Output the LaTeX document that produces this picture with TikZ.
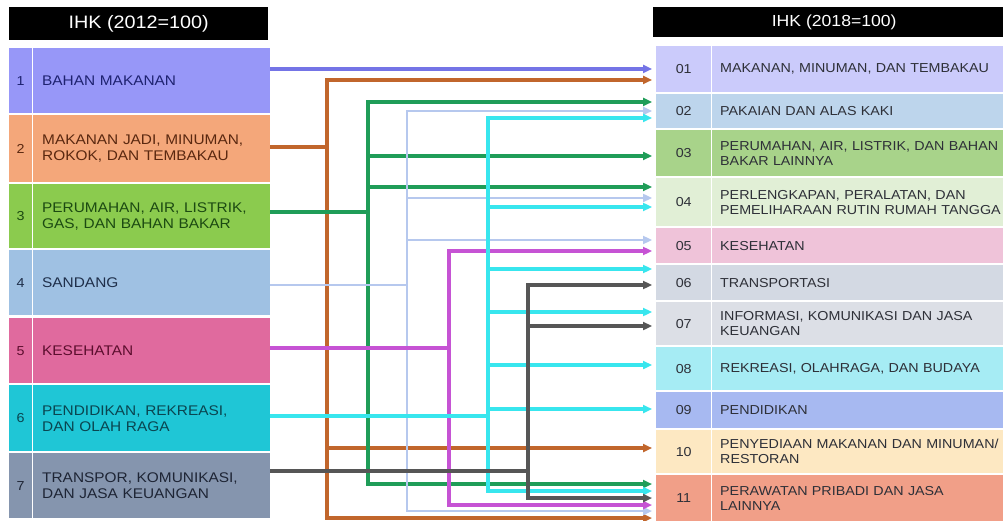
\documentclass[tikz,border=0pt]{standalone}
\usepackage{fontspec}
\setmainfont{Liberation Sans}[FakeStretch=1.1]
\usepackage{tikz}
\usetikzlibrary{positioning,arrows.meta}

\definecolor{lf1}{HTML}{9797F8}
\definecolor{lf2}{HTML}{F4A77A}
\definecolor{lf3}{HTML}{8BCB4E}
\definecolor{lf4}{HTML}{9FC1E3}
\definecolor{lf5}{HTML}{E06A9E}
\definecolor{lf6}{HTML}{1FC6D6}
\definecolor{lf7}{HTML}{8595AE}
\definecolor{lt1}{HTML}{1E2270}
\definecolor{lt2}{HTML}{5A2810}
\definecolor{lt3}{HTML}{1C4A12}
\definecolor{lt4}{HTML}{1F2F4A}
\definecolor{lt5}{HTML}{5C0E2E}
\definecolor{lt6}{HTML}{0A4550}
\definecolor{lt7}{HTML}{1E2535}
\definecolor{rf1}{HTML}{CBCBFB}
\definecolor{rf2}{HTML}{BDD5EC}
\definecolor{rf3}{HTML}{A8D38A}
\definecolor{rf4}{HTML}{E1EFD6}
\definecolor{rf5}{HTML}{EFC3D9}
\definecolor{rf6}{HTML}{D3D9E3}
\definecolor{rf7}{HTML}{DCDFE6}
\definecolor{rf8}{HTML}{A6ECF4}
\definecolor{rf9}{HTML}{A7B9F1}
\definecolor{rf10}{HTML}{FDE8C2}
\definecolor{rf11}{HTML}{F19F88}
\definecolor{rtx}{HTML}{2E3038}
\definecolor{ln1}{HTML}{7474E6}
\definecolor{ln2}{HTML}{C1662C}
\definecolor{ln3}{HTML}{1F9D58}
\definecolor{ln4}{HTML}{B6C8EE}
\definecolor{ln5}{HTML}{C653D4}
\definecolor{ln6}{HTML}{38E6EE}
\definecolor{ln7}{HTML}{565656}

\tikzset{
  hdr/.style={fill=black, text=white, anchor=north west, inner sep=0pt},
  lnum/.style={anchor=north west, minimum width=23pt, inner sep=0pt, font=\fontsize{13}{15}\selectfont},
  lcell/.style={anchor=north west, text width=219pt, inner xsep=9pt, inner ysep=0pt, align=left, font=\fontsize{14}{16}\selectfont},
  rnum/.style={anchor=north west, minimum width=55pt, inner sep=0pt, text=rtx, font=\fontsize{13}{15}\selectfont},
  rcell/.style={anchor=north west, text width=300pt, inner xsep=8pt, inner ysep=0pt, align=left, text=rtx, font=\fontsize{13}{15}\selectfont},
  wire/.style={line width=3.2pt, draw=#1},
  arr/.style={-{Triangle[length=9pt,width=8pt]}, shorten >=4pt},
}

\begin{document}
\begin{tikzpicture}[x=1pt, y=-1pt]
    \useasboundingbox (0,0) rectangle (1003,521);
    \clip (0,0) rectangle (1003,521);
    \fill[white] (0,0) rectangle (1003,521);

    % Nodes
    \node[hdr, minimum width=259pt, minimum height=33pt, font=\fontsize{18}{20}\selectfont] (hl) at (9,7) {IHK (2012=100)};
    \node[hdr, minimum width=362pt, minimum height=30pt, font=\fontsize{16}{18}\selectfont] (hr) at (653,7) {IHK (2018=100)};

    \node[lnum, fill=lf1, text=lt1, minimum height=65pt] (ln1) at (9,48) {1};
    \node[lcell, fill=lf1, text=lt1, minimum height=65pt] (l1) at (33,48) {BAHAN MAKANAN};
    \node[lnum, fill=lf2, text=lt2, minimum height=67pt] (ln2) at (9,115) {2};
    \node[lcell, fill=lf2, text=lt2, minimum height=67pt] (l2) at (33,115) {MAKANAN JADI, MINUMAN,\\ROKOK, DAN TEMBAKAU};
    \node[lnum, fill=lf3, text=lt3, minimum height=64pt] (ln3) at (9,184) {3};
    \node[lcell, fill=lf3, text=lt3, minimum height=64pt] (l3) at (33,184) {PERUMAHAN, AIR, LISTRIK,\\GAS, DAN BAHAN BAKAR};
    \node[lnum, fill=lf4, text=lt4, minimum height=65pt] (ln4) at (9,250) {4};
    \node[lcell, fill=lf4, text=lt4, minimum height=65pt] (l4) at (33,250) {SANDANG};
    \node[lnum, fill=lf5, text=lt5, minimum height=65pt] (ln5) at (9,318) {5};
    \node[lcell, fill=lf5, text=lt5, minimum height=65pt] (l5) at (33,318) {KESEHATAN};
    \node[lnum, fill=lf6, text=lt6, minimum height=66pt] (ln6) at (9,385) {6};
    \node[lcell, fill=lf6, text=lt6, minimum height=66pt] (l6) at (33,385) {PENDIDIKAN, REKREASI,\\DAN OLAH RAGA};
    \node[lnum, fill=lf7, text=lt7, minimum height=65pt] (ln7) at (9,453) {7};
    \node[lcell, fill=lf7, text=lt7, minimum height=65pt] (l7) at (33,453) {TRANSPOR, KOMUNIKASI,\\DAN JASA KEUANGAN};

    \node[rnum, fill=rf1, minimum height=46pt] (rn1) at (656,46) {01};
    \node[rcell, fill=rf1, minimum height=46pt] (r1) at (712,46) {MAKANAN, MINUMAN, DAN TEMBAKAU};
    \node[rnum, fill=rf2, minimum height=34pt] (rn2) at (656,94) {02};
    \node[rcell, fill=rf2, minimum height=34pt] (r2) at (712,94) {PAKAIAN DAN ALAS KAKI};
    \node[rnum, fill=rf3, minimum height=46pt] (rn3) at (656,130) {03};
    \node[rcell, fill=rf3, minimum height=46pt] (r3) at (712,130) {PERUMAHAN, AIR, LISTRIK, DAN BAHAN\\BAKAR LAINNYA};
    \node[rnum, fill=rf4, minimum height=48pt] (rn4) at (656,178) {04};
    \node[rcell, fill=rf4, minimum height=48pt] (r4) at (712,178) {PERLENGKAPAN, PERALATAN, DAN\\PEMELIHARAAN RUTIN RUMAH TANGGA};
    \node[rnum, fill=rf5, minimum height=35pt] (rn5) at (656,228) {05};
    \node[rcell, fill=rf5, minimum height=35pt] (r5) at (712,228) {KESEHATAN};
    \node[rnum, fill=rf6, minimum height=35pt] (rn6) at (656,265) {06};
    \node[rcell, fill=rf6, minimum height=35pt] (r6) at (712,265) {TRANSPORTASI};
    \node[rnum, fill=rf7, minimum height=43pt] (rn7) at (656,302) {07};
    \node[rcell, fill=rf7, minimum height=43pt] (r7) at (712,302) {INFORMASI, KOMUNIKASI DAN JASA\\KEUANGAN};
    \node[rnum, fill=rf8, minimum height=43pt] (rn8) at (656,347) {08};
    \node[rcell, fill=rf8, minimum height=43pt] (r8) at (712,347) {REKREASI, OLAHRAGA, DAN BUDAYA};
    \node[rnum, fill=rf9, minimum height=36pt] (rn9) at (656,392) {09};
    \node[rcell, fill=rf9, minimum height=36pt] (r9) at (712,392) {PENDIDIKAN};
    \node[rnum, fill=rf10, minimum height=43pt] (rn10) at (656,430) {10};
    \node[rcell, fill=rf10, minimum height=43pt] (r10) at (712,430) {PENYEDIAAN MAKANAN DAN MINUMAN/\\RESTORAN};
    \node[rnum, fill=rf11, minimum height=46pt] (rn11) at (656,475) {11};
    \node[rcell, fill=rf11, minimum height=46pt] (r11) at (712,475) {PERAWATAN PRIBADI DAN JASA\\LAINNYA};

    % Trunks
    \coordinate (t2) at (327,147);
    \coordinate (t3) at (368,212);
    \coordinate (t4) at (407,285);
    \coordinate (t5) at (449,348);
    \coordinate (t6) at (488,416);
    \coordinate (t7) at (528,471);

    % Arrows
    \draw[wire=ln1, arr] (l1.east |- 0,69) -- (rn1.west |- 0,69);

    \draw[wire=ln2] (l2.east |- t2) -- (t2);
    \draw[wire=ln2, arr] (t2) |- (rn1.west |- 0,80);
    \draw[wire=ln2, arr] (t2) |- (rn10.west |- 0,448);
    \draw[wire=ln2, arr] (t2) |- (rn11.west |- 0,518);

    \draw[wire=ln3] (l3.east |- t3) -- (t3);
    \draw[wire=ln3, arr] (t3) |- (rn2.west |- 0,102);
    \draw[wire=ln3, arr] (t3) |- (rn3.west |- 0,156);
    \draw[wire=ln3, arr] (t3) |- (rn4.west |- 0,187);
    \draw[wire=ln3, arr] (t3) |- (rn11.west |- 0,484);

    \draw[wire=ln4, line width=2.5pt] (l4.east |- t4) -- (t4);
    \draw[wire=ln4, line width=2.5pt, arr] (t4) |- (rn2.west |- 0,111);
    \draw[wire=ln4, line width=2.5pt, arr] (t4) |- (rn4.west |- 0,198);
    \draw[wire=ln4, line width=2.5pt, arr] (t4) |- (rn5.west |- 0,240);
    \draw[wire=ln4, line width=2.5pt, arr] (t4) |- (rn11.west |- 0,511);

    \draw[wire=ln5] (l5.east |- t5) -- (t5);
    \draw[wire=ln5, arr] (t5) |- (rn5.west |- 0,251);
    \draw[wire=ln5, arr] (t5) |- (rn11.west |- 0,505);

    \draw[wire=ln6] (l6.east |- t6) -- (t6);
    \draw[wire=ln6, arr] (t6) |- (rn2.west |- 0,118);
    \draw[wire=ln6, arr] (t6) |- (rn4.west |- 0,207);
    \draw[wire=ln6, arr] (t6) |- (rn6.west |- 0,269);
    \draw[wire=ln6, arr] (t6) |- (rn7.west |- 0,312);
    \draw[wire=ln6, arr] (t6) |- (rn8.west |- 0,365);
    \draw[wire=ln6, arr] (t6) |- (rn9.west |- 0,409);
    \draw[wire=ln6, arr] (t6) |- (rn11.west |- 0,491);

    \draw[wire=ln7] (l7.east |- t7) -- (t7);
    \draw[wire=ln7, arr] (t7) |- (rn6.west |- 0,285);
    \draw[wire=ln7, arr] (t7) |- (rn7.west |- 0,326);
    \draw[wire=ln7, arr] (t7) |- (rn11.west |- 0,498);
\end{tikzpicture}
\end{document}
